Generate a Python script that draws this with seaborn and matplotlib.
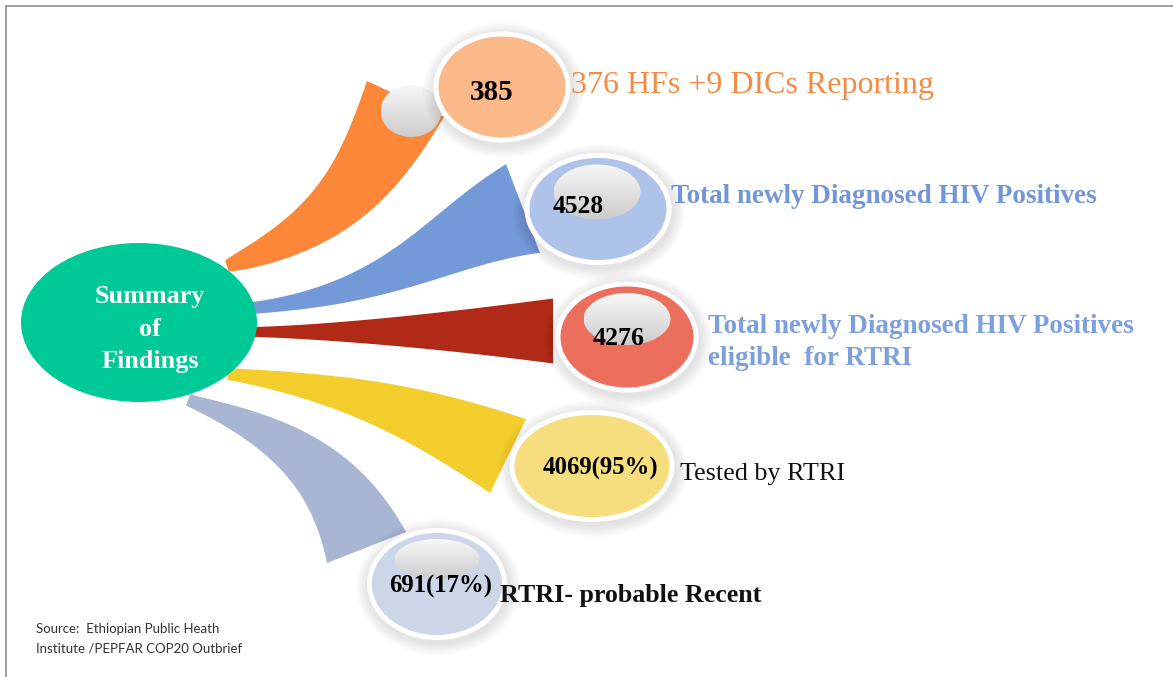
import numpy as np
import seaborn as sns
import matplotlib.pyplot as plt
from matplotlib.patches import Ellipse, Polygon

# ---- data ----
center_title = ["Summary", "of", "Findings"]
counts = ["385", "4528", "4276", "4069(95%)", "691(17%)"]
labels = [
    ["376 HFs +9 DICs Reporting"],
    ["Total newly Diagnosed HIV Positives"],
    ["Total newly Diagnosed HIV Positives", "eligible  for RTRI"],
    ["Tested by RTRI"],
    ["RTRI- probable Recent"],
]
source_note = ["Source:  Ethiopian Public Heath", "Institute /PEPFAR COP20 Outbrief"]

# ---- layout (pixel space of the 1173x677 canvas) ----
ribbon_colors = sns.color_palette(["#FC8738", "#7499D8", "#B02A17", "#F3CD2C", "#A9B6D3"])
bubble_colors = sns.color_palette(["#FBB889", "#AEC3E9", "#EC6E5D", "#F6DE7E", "#CDD5E9"])
label_colors = ["#F58A45", "#7396D8", "#7C9FDE", "#111111", "#111111"]
label_weights = ["normal", "bold", "bold", "normal", "bold"]
label_sizes = [23, 19.5, 19.5, 18.8, 18.7]
label_pos = [(571, 93), (671, 203), (708, 333), (680, 480), (500, 602)]
label_step = 32

bubble_xy = [(502, 87), (598, 209), (627, 337), (592, 466), (437, 584)]
bubble_wh = [(137, 111), (147, 112), (143, 111), (165, 112), (140, 112)]
# gray highlight inside bubble (None = no highlight)
shine = [None, (597, 192, 87, 55), (627, 319, 87, 52), None, (437, 559, 85, 40)]
count_pos = [(492, 100), (578, 213), (619, 345), (600, 475), (441, 593)]
count_sizes = [21, 18.4, 18.7, 17.8, 17.8]

# ribbons: start point, start dir, end point, end dir, handle lengths, widths, growth
ribbons = [
    ((227, 266), (1, -0.35), (405.5, 99), (0.423, -0.906), 110, 90, 11, 85, 0.75),
    ((252, 308), (1, -0.10), (523, 208.5), (0.934, -0.357), 140, 90, 12, 95, 1.38),
    ((250, 332), (1, 0.0), (553, 331), (1, 0.0), 100, 100, 10, 65, 1.45),
    ((228, 374), (1, 0.12), (508, 456), (0.90, 0.437), 120, 100, 12, 82, 1.15),
    ((188, 400), (1, 0.35), (366.5, 547.5), (0.365, 0.93), 90, 90, 12, 85, 1.1),
]

W, H = 1173, 677

sns.set_theme(style="white")
plt.rcParams["font.family"] = ["Liberation Serif", "DejaVu Serif"]

fig = plt.figure(figsize=(W / 100, H / 100), dpi=100)
ax = fig.add_axes([0, 0, 1, 1])
ax.set_xlim(0, W)
ax.set_ylim(H, 0)
ax.axis("off")


def unit(v):
    v = np.asarray(v, dtype=float)
    return v / np.linalg.norm(v)


def draw_ribbon(p0, d0, p3, d1, l0, l1, w0, w1, power, color):
    p0, p3 = np.array(p0, float), np.array(p3, float)
    c1 = p0 + unit(d0) * l0
    c2 = p3 - unit(d1) * l1
    t = np.linspace(0, 1, 120)[:, None]
    pts = (1 - t) ** 3 * p0 + 3 * (1 - t) ** 2 * t * c1 + 3 * (1 - t) * t ** 2 * c2 + t ** 3 * p3
    der = 3 * (1 - t) ** 2 * (c1 - p0) + 6 * (1 - t) * t * (c2 - c1) + 3 * t ** 2 * (p3 - c2)
    der = der / np.linalg.norm(der, axis=1, keepdims=True)
    nrm = np.column_stack([-der[:, 1], der[:, 0]])
    w = (w0 + (w1 - w0) * t ** power) / 2
    outline = np.vstack([pts + nrm * w, (pts - nrm * w)[::-1]])
    ax.add_patch(Polygon(outline, closed=True, facecolor=color, edgecolor="none", zorder=2))


def shiny_ellipse(x, y, w, h, zorder):
    clip = Ellipse((x, y), w, h, facecolor="none", edgecolor="none", zorder=zorder)
    ax.add_patch(clip)
    grad = np.linspace(0.97, 0.80, 64)[:, None] * np.ones((1, 8))
    img = ax.imshow(grad, cmap="gray", vmin=0, vmax=1, extent=(x - w / 2, x + w / 2, y + h / 2, y - h / 2),
                    origin="upper", aspect="auto", interpolation="bilinear", zorder=zorder)
    img.set_clip_path(clip)


def bubble(x, y, w, h, color, zorder):
    # soft drop shadow
    for k in range(14):
        grow = 2 + k * 1.8
        ax.add_patch(Ellipse((x + 1.5, y + 3), w + grow, h + grow, facecolor="black",
                             edgecolor="none", alpha=0.0075, zorder=zorder))
    ax.add_patch(Ellipse((x, y), w, h, facecolor="white", edgecolor="none", zorder=zorder + 0.1))
    ax.add_patch(Ellipse((x, y), w - 10, h - 10, facecolor=color, edgecolor="none", zorder=zorder + 0.2))


# frame lines (top and left only)
ax.plot([6, W], [5.5, 5.5], color="#8f8f8f", lw=1.2, zorder=1)
ax.plot([6, 6], [5.5, H], color="#8f8f8f", lw=1.2, zorder=1)

for rb, col in zip(ribbons, ribbon_colors):
    draw_ribbon(*rb, col)

# central ellipse
ax.add_patch(Ellipse((139, 322.5), 236, 159, facecolor="#00C998", edgecolor="none", zorder=3))
for i, line in enumerate(center_title):
    ax.text(150, 303 + i * 32.5, line, color="white", fontsize=18.8, fontweight="bold",
            ha="center", va="baseline", zorder=4)

# small gray ball next to the first bubble
shiny_ellipse(411, 111, 61, 52, zorder=3)

for i in range(len(counts)):
    x, y = bubble_xy[i]
    w, h = bubble_wh[i]
    bubble(x, y, w, h, bubble_colors[i], zorder=5)
    if shine[i] is not None:
        sx, sy, sw, sh = shine[i]
        shiny_ellipse(sx, sy, sw, sh, zorder=5.5)
    cx, cy = count_pos[i]
    ax.text(cx, cy, counts[i], fontsize=count_sizes[i], fontweight="bold", color="black",
            ha="center", va="baseline", zorder=6)
    lx, ly = label_pos[i]
    for j, line in enumerate(labels[i]):
        ax.text(lx, ly + j * label_step, line, fontsize=label_sizes[i], fontweight=label_weights[i],
                color=label_colors[i], ha="left", va="baseline", zorder=6)

for j, line in enumerate(source_note):
    ax.text(36, 633 + j * 19.5, line, fontsize=9.5, color="#333333", family=["Lato", "DejaVu Sans"],
            ha="left", va="baseline", zorder=6)

fig.savefig("out.png", dpi=100)
